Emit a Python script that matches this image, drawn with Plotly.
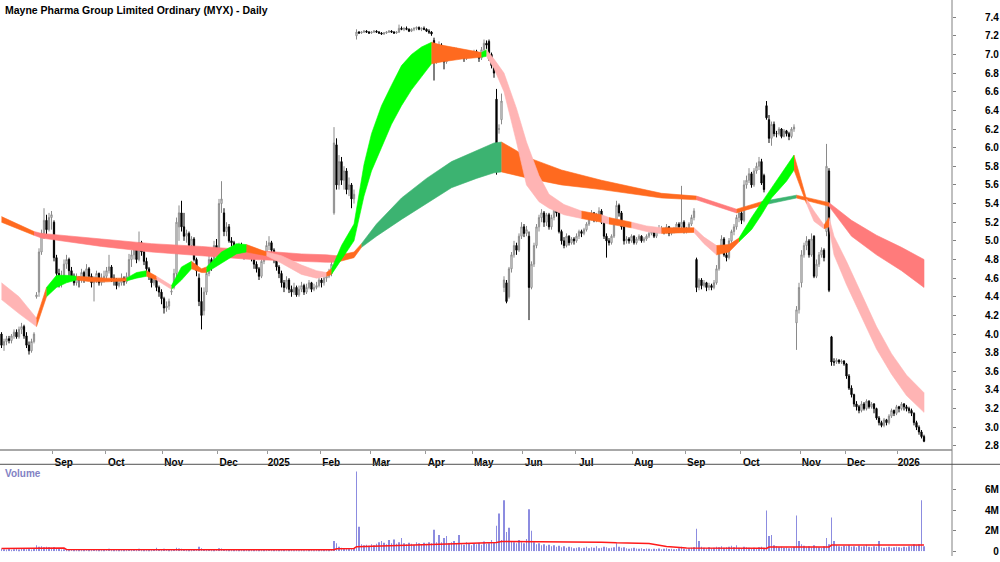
import plotly.graph_objects as go

# ---------------- data ----------------
month_first_bar = [21, 42, 65, 87, 107, 128, 148, 170, 189, 209, 230, 253, 274, 296, 320, 338, 359]
month_labels = ["Sep", "Oct", "Nov", "Dec", "2025", "Feb", "Mar", "Apr", "May", "Jun",
                "Jul", "Aug", "Sep", "Oct", "Nov", "Dec", "2026"]

opens = [
    4.00,3.88,3.92,3.95,3.93,3.98,4.02,3.97,4.05,4.08,
    3.98,3.88,3.82,3.92,4.40,4.45,4.88,5.08,5.22,5.12,
    5.25,5.20,4.82,4.65,4.55,4.62,4.75,4.80,4.68,4.62,
    4.55,4.60,4.58,4.66,4.60,4.70,4.62,4.55,4.58,4.65,
    4.55,4.60,4.62,4.68,4.72,4.60,4.58,4.52,4.55,4.60,
    4.56,4.62,4.80,4.85,4.92,4.80,4.98,4.88,4.78,4.70,
    4.62,4.55,4.58,4.50,4.45,4.38,4.28,4.30,4.45,4.50,
    4.65,5.15,5.30,5.15,5.05,5.08,4.95,5.02,4.80,4.60,
    4.35,4.25,4.45,4.65,4.80,4.75,4.95,4.90,5.40,5.30,
    5.10,5.15,5.00,4.98,4.92,4.88,4.95,4.90,4.85,4.92,
    4.88,4.82,4.75,4.70,4.62,4.78,4.85,4.95,4.98,4.90,
    4.80,4.72,4.65,4.55,4.50,4.58,4.48,4.45,4.50,4.42,
    4.48,4.52,4.45,4.50,4.55,4.48,4.50,4.52,4.58,4.55,
    4.60,4.62,4.65,5.30,6.03,5.60,5.85,5.65,5.75,5.55,
    5.60,5.45,7.20,7.24,7.23,7.24,7.25,7.24,7.23,7.24,
    7.25,7.24,7.23,7.22,7.23,7.24,7.25,7.24,7.23,7.24,
    7.28,7.27,7.28,7.27,7.25,7.27,7.28,7.29,7.27,7.28,
    7.27,7.25,7.24,7.15,6.92,7.05,7.10,6.95,6.92,7.00,
    6.98,7.02,7.05,7.00,7.04,6.98,6.96,7.00,7.02,7.00,
    7.03,7.01,6.96,7.05,7.12,7.14,7.00,6.88,6.52,6.20,
    6.30,4.50,4.55,4.40,4.70,4.85,4.95,4.90,5.05,5.15,
    5.08,5.05,4.50,4.75,4.95,5.15,5.25,5.30,5.20,5.28,
    5.15,5.25,5.35,5.30,5.10,5.00,4.95,5.05,4.98,5.02,
    5.00,5.05,5.10,5.08,5.12,5.18,5.25,5.30,5.22,5.28,
    5.32,5.20,5.05,5.00,4.98,5.05,5.20,5.38,5.30,5.15,
    5.00,5.02,5.00,5.05,4.98,5.02,5.05,5.00,5.02,5.05,
    5.08,5.10,5.05,5.10,5.12,5.12,5.10,5.15,5.08,5.10,
    5.12,5.18,5.15,5.20,5.10,5.12,5.18,5.25,4.80,4.50,
    4.58,4.52,4.55,4.50,4.52,4.50,4.55,4.70,4.90,5.02,
    4.85,4.82,5.00,5.10,5.15,5.25,5.30,5.22,5.60,5.65,
    5.72,5.60,5.75,5.80,5.85,5.70,6.45,6.30,6.10,6.25,
    6.15,6.15,6.20,6.12,6.18,6.15,6.12,6.20,4.12,4.26,
    4.55,4.85,4.95,5.00,4.85,5.05,4.62,4.75,4.85,4.90,
    5.10,5.75,3.97,3.70,3.70,3.72,3.70,3.71,3.68,3.55,
    3.42,3.35,3.25,3.22,3.18,3.25,3.20,3.28,3.22,3.25,
    3.20,3.10,3.05,3.02,3.08,3.05,3.12,3.18,3.15,3.22,
    3.20,3.25,3.22,3.20,3.18,3.15,3.05,3.00,2.95,2.90,
]
highs = [
    4.02,3.95,3.98,3.98,4.00,4.05,4.05,4.08,4.12,4.10,
    4.02,3.92,3.95,4.02,4.45,4.92,5.12,5.35,5.28,5.30,
    5.32,5.22,4.85,4.70,4.68,4.80,4.85,4.82,4.72,4.65,
    4.65,4.62,4.70,4.68,4.75,4.72,4.65,4.62,4.68,4.66,
    4.65,4.68,4.72,4.85,4.74,4.64,4.60,4.60,4.65,4.62,
    4.66,4.86,4.90,4.98,4.94,5.10,5.00,4.90,4.82,4.72,
    4.64,4.62,4.60,4.52,4.48,4.40,4.35,4.38,4.50,4.70,
    5.25,5.38,5.43,5.30,5.12,5.10,5.05,5.04,4.82,4.65,
    4.50,4.50,4.70,4.85,4.82,5.00,5.02,5.45,5.64,5.35,
    5.20,5.18,5.04,5.00,4.95,4.98,4.98,4.92,4.95,4.94,
    4.90,4.84,4.78,4.72,4.80,4.88,5.00,5.05,5.00,4.92,
    4.82,4.74,4.68,4.58,4.62,4.60,4.52,4.55,4.52,4.52,
    4.56,4.54,4.54,4.58,4.56,4.54,4.56,4.62,4.60,4.64,
    4.66,4.70,4.78,6.22,6.10,5.92,5.90,5.80,5.78,5.68,
    5.62,5.55,7.27,7.25,7.25,7.26,7.26,7.25,7.25,7.26,
    7.26,7.25,7.24,7.24,7.25,7.26,7.26,7.25,7.25,7.32,
    7.30,7.29,7.30,7.28,7.28,7.29,7.30,7.30,7.29,7.30,
    7.28,7.27,7.25,7.18,7.10,7.14,7.12,6.98,7.04,7.02,
    7.06,7.08,7.07,7.06,7.05,7.00,7.02,7.04,7.03,7.05,
    7.05,7.02,7.08,7.16,7.15,7.16,7.02,6.90,6.63,6.25,
    6.58,4.62,4.58,4.72,4.88,5.00,4.98,5.08,5.20,5.18,
    5.16,5.10,4.78,4.98,5.18,5.28,5.34,5.32,5.30,5.30,
    5.28,5.36,5.36,5.32,5.12,5.04,5.08,5.06,5.04,5.04,
    5.08,5.12,5.12,5.14,5.20,5.27,5.33,5.31,5.30,5.36,
    5.34,5.22,5.08,5.03,5.07,5.22,5.43,5.40,5.32,5.17,
    5.05,5.04,5.07,5.06,5.04,5.07,5.06,5.04,5.07,5.10,
    5.12,5.11,5.12,5.17,5.16,5.14,5.18,5.16,5.13,5.15,
    5.20,5.20,5.59,5.22,5.15,5.20,5.28,5.35,4.82,4.60,
    4.60,4.58,4.56,4.55,4.54,4.58,4.74,4.92,5.06,5.04,
    4.88,5.03,5.12,5.18,5.28,5.33,5.32,5.65,5.70,5.78,
    5.74,5.78,5.84,5.90,5.88,5.72,6.50,6.35,6.28,6.28,
    6.18,6.22,6.21,6.20,6.19,6.17,6.22,6.25,4.30,4.55,
    4.90,4.98,5.05,5.02,5.08,5.06,4.80,4.88,4.93,4.92,
    6.04,5.78,3.98,3.74,3.74,3.73,3.73,3.72,3.69,3.57,
    3.45,3.36,3.28,3.24,3.28,3.27,3.30,3.29,3.27,3.26,
    3.21,3.12,3.07,3.10,3.09,3.14,3.20,3.19,3.24,3.23,
    3.27,3.26,3.24,3.22,3.20,3.16,3.07,3.02,2.97,2.92,
]
lows = [
    3.85,3.82,3.88,3.90,3.90,3.95,3.95,3.95,4.00,3.95,
    3.85,3.78,3.80,3.90,4.38,4.40,4.85,5.02,5.05,5.10,
    5.12,4.78,4.60,4.50,4.50,4.60,4.70,4.62,4.58,4.52,
    4.52,4.50,4.55,4.55,4.58,4.58,4.50,4.35,4.55,4.52,
    4.52,4.55,4.58,4.65,4.56,4.52,4.48,4.50,4.52,4.52,
    4.54,4.60,4.72,4.80,4.76,4.78,4.84,4.74,4.66,4.58,
    4.50,4.52,4.46,4.40,4.32,4.22,4.24,4.26,4.42,4.48,
    4.60,5.00,5.10,5.00,4.98,4.90,4.92,4.78,4.62,4.30,
    4.05,4.20,4.42,4.62,4.68,4.72,4.85,4.85,5.30,5.05,
    5.05,4.98,4.94,4.88,4.84,4.86,4.86,4.80,4.82,4.84,
    4.78,4.70,4.66,4.58,4.60,4.75,4.82,4.90,4.86,4.76,
    4.68,4.60,4.50,4.45,4.48,4.44,4.40,4.42,4.40,4.40,
    4.45,4.42,4.43,4.48,4.45,4.46,4.48,4.50,4.50,4.52,
    4.56,4.60,4.62,5.28,5.55,5.55,5.60,5.55,5.50,5.48,
    5.35,5.40,7.16,7.22,7.22,7.23,7.23,7.22,7.22,7.23,
    7.23,7.22,7.21,7.21,7.22,7.23,7.23,7.22,7.22,7.23,
    7.26,7.25,7.26,7.24,7.24,7.25,7.26,7.26,7.25,7.26,
    7.24,7.22,7.20,6.72,6.90,7.00,6.92,6.84,6.90,6.94,
    6.96,7.00,6.98,6.98,6.96,6.92,6.94,6.98,6.97,6.98,
    6.99,6.92,6.94,7.02,7.06,6.93,6.85,6.75,5.71,6.15,
    6.25,4.45,4.33,4.38,4.66,4.82,4.85,4.88,5.02,5.04,
    5.05,4.15,4.48,4.72,4.92,5.10,5.20,5.15,5.16,5.12,
    5.12,5.22,5.26,5.08,4.96,4.92,4.93,4.95,4.96,4.96,
    4.98,5.02,5.04,5.06,5.10,5.16,5.22,5.20,5.20,5.26,
    5.18,5.02,4.82,4.95,4.96,5.03,5.18,5.26,5.12,4.96,
    4.97,4.97,4.98,4.96,4.96,5.00,4.98,4.98,5.00,5.03,
    5.06,5.03,5.03,5.08,5.09,5.07,5.08,5.05,5.06,5.08,
    5.10,5.12,5.13,5.08,5.08,5.10,5.16,5.22,4.45,4.47,
    4.48,4.50,4.46,4.47,4.47,4.48,4.53,4.68,4.88,4.83,
    4.78,4.80,4.98,5.06,5.12,5.20,5.18,5.20,5.56,5.62,
    5.57,5.58,5.72,5.76,5.60,5.52,6.30,6.05,6.02,6.12,
    6.11,6.13,6.10,6.11,6.12,6.08,6.10,6.17,3.83,4.22,
    4.50,4.82,4.90,4.82,4.83,4.60,4.60,4.72,4.82,4.78,
    5.05,4.45,3.66,3.66,3.68,3.68,3.68,3.66,3.52,3.40,
    3.32,3.22,3.18,3.15,3.16,3.18,3.18,3.20,3.20,3.15,
    3.08,3.02,3.00,3.00,3.02,3.03,3.10,3.12,3.13,3.16,
    3.18,3.18,3.17,3.15,3.12,3.02,2.97,2.92,2.88,2.84,
]
closes = [
    3.88,3.92,3.95,3.93,3.98,4.02,3.97,4.05,4.08,3.98,
    3.88,3.82,3.92,4.00,4.42,4.88,5.08,5.22,5.12,5.25,
    5.28,4.82,4.65,4.55,4.62,4.75,4.80,4.68,4.62,4.55,
    4.60,4.58,4.66,4.60,4.70,4.62,4.55,4.58,4.65,4.55,
    4.60,4.62,4.68,4.72,4.60,4.58,4.52,4.55,4.60,4.56,
    4.62,4.80,4.85,4.92,4.80,4.98,4.88,4.78,4.70,4.62,
    4.55,4.58,4.50,4.45,4.38,4.28,4.30,4.35,4.46,4.65,
    5.20,5.30,5.15,5.05,5.08,4.95,5.02,4.80,4.68,4.35,
    4.20,4.45,4.65,4.80,4.75,4.95,4.90,5.40,5.45,5.10,
    5.15,5.00,4.98,4.92,4.88,4.95,4.90,4.85,4.92,4.88,
    4.82,4.75,4.70,4.62,4.78,4.85,4.95,4.98,4.90,4.80,
    4.72,4.65,4.55,4.50,4.58,4.48,4.45,4.50,4.42,4.48,
    4.52,4.45,4.50,4.55,4.48,4.50,4.52,4.58,4.55,4.60,
    4.62,4.65,4.75,6.05,5.60,5.85,5.65,5.75,5.55,5.60,
    5.45,5.50,7.24,7.23,7.24,7.25,7.24,7.23,7.24,7.25,
    7.24,7.23,7.22,7.23,7.24,7.25,7.24,7.23,7.24,7.28,
    7.27,7.28,7.27,7.25,7.27,7.28,7.29,7.27,7.28,7.27,
    7.25,7.24,7.22,6.92,7.05,7.10,6.95,6.92,7.00,6.98,
    7.02,7.05,7.00,7.04,6.98,6.96,7.00,7.02,7.00,7.03,
    7.01,6.96,7.05,7.12,7.10,6.95,6.88,6.80,5.75,6.20,
    6.50,4.58,4.35,4.70,4.85,4.95,4.90,5.05,5.15,5.08,
    5.12,4.50,4.75,4.95,5.15,5.25,5.30,5.20,5.28,5.15,
    5.25,5.35,5.30,5.10,5.00,4.95,5.05,4.98,5.02,5.00,
    5.05,5.10,5.08,5.12,5.18,5.25,5.30,5.22,5.28,5.32,
    5.20,5.05,5.00,4.98,5.05,5.20,5.38,5.30,5.15,5.00,
    5.02,5.00,5.05,4.98,5.02,5.05,5.00,5.02,5.05,5.08,
    5.10,5.05,5.10,5.12,5.12,5.10,5.15,5.08,5.10,5.12,
    5.18,5.15,5.20,5.10,5.12,5.18,5.25,5.32,4.50,4.58,
    4.52,4.55,4.50,4.52,4.50,4.55,4.70,4.90,5.02,4.85,
    4.82,5.00,5.10,5.15,5.25,5.30,5.22,5.60,5.65,5.72,
    5.60,5.75,5.80,5.85,5.62,5.55,6.32,6.10,6.25,6.15,
    6.15,6.20,6.12,6.18,6.15,6.12,6.20,6.22,4.26,4.50,
    4.85,4.95,5.00,4.85,5.02,4.62,4.75,4.85,4.90,4.82,
    5.80,4.47,3.70,3.70,3.72,3.70,3.71,3.68,3.55,3.42,
    3.35,3.25,3.22,3.18,3.25,3.20,3.28,3.22,3.25,3.20,
    3.10,3.05,3.02,3.08,3.05,3.12,3.18,3.15,3.22,3.20,
    3.25,3.22,3.20,3.18,3.15,3.05,3.00,2.95,2.90,2.85,
]
volumes_m = [
    0.25,0.20,0.18,0.22,0.15,0.20,0.28,0.18,0.22,0.25,
    0.20,0.30,0.18,0.22,0.60,0.45,0.50,0.40,0.45,0.40,
    0.35,0.40,0.30,0.22,0.18,0.20,0.15,0.18,0.22,0.15,
    0.12,0.15,0.18,0.14,0.20,0.16,0.12,0.22,0.15,0.14,
    0.15,0.18,0.20,0.25,0.15,0.12,0.14,0.16,0.13,0.12,
    0.15,0.22,0.18,0.20,0.16,0.25,0.18,0.15,0.14,0.16,
    0.18,0.20,0.35,0.22,0.18,0.25,0.20,0.16,0.15,0.22,
    0.35,0.28,0.25,0.20,0.18,0.15,0.16,0.20,0.22,0.45,
    0.30,0.22,0.18,0.20,0.16,0.18,0.22,0.30,0.28,0.20,
    0.18,0.15,0.14,0.16,0.12,0.13,0.15,0.12,0.14,0.12,
    0.13,0.15,0.18,0.14,0.16,0.15,0.18,0.20,0.14,0.12,
    0.15,0.14,0.16,0.12,0.10,0.12,0.13,0.11,0.12,0.10,
    0.12,0.11,0.10,0.13,0.12,0.11,0.14,0.12,0.15,0.13,
    0.14,0.16,0.20,1.00,0.80,0.45,0.35,0.30,0.28,0.25,
    0.30,0.28,7.80,2.40,0.70,0.60,0.65,0.55,0.70,0.60,
    0.75,0.90,1.00,0.85,0.70,1.10,0.80,1.15,0.75,0.90,
    1.30,0.80,0.70,0.85,0.75,0.65,0.90,0.80,0.70,0.85,
    0.75,0.90,0.80,2.10,0.90,1.60,0.90,1.30,1.50,0.80,
    0.90,1.00,0.75,1.60,0.70,0.65,0.90,0.75,0.60,0.80,
    0.70,0.85,0.65,0.95,0.75,0.80,1.10,0.90,2.50,3.70,
    1.10,5.00,1.90,2.30,1.00,0.90,0.80,1.10,0.90,0.80,
    1.20,4.10,2.00,0.90,0.70,0.80,0.60,0.70,0.55,0.65,
    0.50,0.60,0.45,0.55,0.40,0.50,0.35,0.45,0.40,0.30,
    0.35,0.40,0.30,0.35,0.45,0.30,0.40,0.35,0.50,0.30,
    0.35,0.45,0.40,0.30,0.35,0.40,0.80,0.45,0.35,0.40,
    0.30,0.25,0.30,0.35,0.28,0.25,0.30,0.22,0.28,0.25,
    0.20,0.25,0.22,0.28,0.20,0.25,0.30,0.22,0.25,0.20,
    0.22,0.30,0.45,0.25,0.20,0.30,0.35,0.40,2.20,1.00,
    0.45,0.35,0.30,0.40,0.30,0.35,0.45,0.40,0.50,0.35,
    0.40,0.45,0.55,0.40,0.60,0.35,0.30,0.45,0.40,0.35,
    0.30,0.35,0.30,0.40,0.45,0.35,4.00,1.50,1.60,0.60,
    0.50,0.40,0.45,0.35,0.40,0.30,0.35,0.45,3.50,1.00,
    0.70,0.55,0.45,0.50,0.40,0.60,0.45,0.40,0.35,0.50,
    1.30,0.70,3.30,1.00,0.60,0.50,0.45,0.55,0.50,0.60,
    0.45,0.50,0.40,0.55,0.45,0.50,0.65,0.45,0.40,0.50,
    0.45,1.00,0.40,0.35,0.40,0.45,0.35,0.40,0.45,0.40,
    0.35,0.45,0.40,0.50,0.55,0.70,0.60,0.70,5.00,0.50,
]

# volume moving-average line (millions), read at bar positions
vol_ma_idx = [0, 4, 5, 25, 26, 120, 121, 133, 134, 141, 142, 168, 184, 198, 200, 212,
              240, 246, 259, 266, 274, 306, 307, 331, 332, 369]
vol_ma_val = [0.29, 0.29, 0.32, 0.32, 0.19, 0.19, 0.14, 0.15, 0.25, 0.28, 0.45, 0.64, 0.77,
              0.87, 0.96, 0.96, 0.90, 0.83, 0.77, 0.48, 0.32, 0.29, 0.42, 0.42, 0.61, 0.63]

# short-term ribbon (upper / lower edge) read at bar positions
fast_idx = [0, 7, 14, 18, 22, 26, 30, 36, 42, 50, 54, 58, 62, 68, 72, 76, 80, 82, 88, 94,
            98, 102, 106, 112, 120, 126, 130, 132, 136, 141, 143, 145, 148, 152, 156, 160, 164, 168, 172, 176,
            184, 192, 194, 197, 201, 206, 210, 215, 219, 225, 232, 240, 243, 252, 258, 264, 277, 281, 286, 291,
            295, 300, 304, 308, 314, 317, 320, 322, 325, 329, 331, 333, 338, 344, 350, 356, 362, 369]
fast_top = [4.55, 4.40, 4.17, 4.50, 4.63, 4.63, 4.62, 4.61, 4.60, 4.60, 4.66, 4.68, 4.62, 4.52, 4.72, 4.78, 4.70, 4.72, 4.88, 4.97,
            4.96, 4.92, 4.88, 4.84, 4.74, 4.68, 4.66, 4.70, 4.95, 5.18, 5.50, 5.82, 6.15, 6.45, 6.67, 6.88, 7.00, 7.08, 7.13, 7.10,
            7.06, 7.02, 7.05, 6.95, 6.80, 6.42, 6.06, 5.70, 5.50, 5.39, 5.32, 5.28, 5.25, 5.20, 5.16, 5.14, 5.14, 5.04, 4.95, 4.96,
            5.03, 5.25, 5.41, 5.57, 5.81, 5.92, 5.62, 5.45, 5.32, 5.17, 5.25, 5.05, 4.78, 4.43, 4.08, 3.79, 3.56, 3.37]
fast_bot = [4.37, 4.22, 4.08, 4.40, 4.50, 4.55, 4.58, 4.56, 4.56, 4.57, 4.60, 4.62, 4.58, 4.48, 4.58, 4.70, 4.66, 4.66, 4.76, 4.86,
            4.88, 4.86, 4.84, 4.76, 4.64, 4.60, 4.62, 4.64, 4.80, 5.00, 5.25, 5.48, 5.75, 6.00, 6.25, 6.45, 6.62, 6.76, 6.90, 6.92,
            6.95, 6.97, 6.98, 6.85, 6.60, 6.06, 5.60, 5.42, 5.35, 5.28, 5.24, 5.20, 5.18, 5.14, 5.10, 5.08, 5.09, 4.97, 4.85, 4.88,
            4.99, 5.12, 5.28, 5.46, 5.64, 5.76, 5.55, 5.40, 5.21, 5.13, 5.15, 4.85, 4.53, 4.18, 3.84, 3.57, 3.34, 3.16]
# colour of each stretch between two consecutive samples (P pink, O orange, G green)
fast_state = "PPOGGGOOOG" "GOPGGOOGGG" "OOPPPPOGGG" "GGGGGGGGOO" "OGPPPPPPPP" "OPOPPOPPOO" "GGGGGOOPPO" "PPPPPPP"

# long-term ribbon
slow_idx = [0, 13, 16, 40, 60, 80, 100, 120, 130, 134, 141, 144, 150, 160, 170, 180, 190, 197, 200, 211,
            224, 240, 264, 278, 294, 304, 318, 331, 340, 350, 360, 369]
slow_top = [5.26, 5.10, 5.08, 5.02, 4.97, 4.94, 4.90, 4.86, 4.85, 4.84, 4.88, 4.97, 5.18, 5.46, 5.67, 5.85, 5.97, 6.05, 6.06, 5.89,
            5.76, 5.65, 5.51, 5.48, 5.34, 5.42, 5.49, 5.41, 5.22, 5.06, 4.93, 4.80]
slow_bot = [5.20, 5.06, 5.03, 4.94, 4.88, 4.84, 4.80, 4.78, 4.77, 4.77, 4.82, 4.93, 5.05, 5.23, 5.40, 5.57, 5.67, 5.73, 5.74, 5.67,
            5.60, 5.55, 5.46, 5.44, 5.30, 5.38, 5.46, 5.37, 5.05, 4.85, 4.68, 4.50]
# (O orange, R red, S sea green)
slow_state = "ORRRRRRRRO" "OSSSSSSSOO" "OOOROSORRRR"

price_ticks = [2.8, 3.0, 3.2, 3.4, 3.6, 3.8, 4.0, 4.2, 4.4, 4.6, 4.8, 5.0, 5.2, 5.4, 5.6, 5.8,
               6.0, 6.2, 6.4, 6.6, 6.8, 7.0, 7.2, 7.4]
volume_ticks_m = [0, 2, 4, 6]
volume_tick_text = ["\u00a0\u00a0\u00a00", "2M", "4M", "6M"]

# ---------------- styling ----------------
STATE_COLORS = {"P": "#ffb4b4", "O": "#ff6a1f", "G": "#00ff00", "R": "#ff7b7b", "S": "#3cb371"}
FONT = "Liberation Sans, Arial, sans-serif"
W, H = 1000, 562
PLOT_RIGHT = 952
PRICE_BOTTOM = 454.3
VOL_TOP, VOL_ZERO = 469.3, 557.3

bars = list(range(len(closes)))
fig = go.Figure()


def add_ribbon(idx, top, bot, states):
    k = 0
    n = len(states)
    while k < n:
        j = k
        while j + 1 < n and states[j + 1] == states[k]:
            j += 1
        a, b = k, j + 1
        xs = idx[a:b + 1] + idx[a:b + 1][::-1]
        ys = top[a:b + 1] + bot[a:b + 1][::-1]
        fig.add_trace(go.Scatter(x=xs, y=ys, mode="lines", fill="toself",
                                 fillcolor=STATE_COLORS[states[k]],
                                 line=dict(width=0.6, color=STATE_COLORS[states[k]]),
                                 hoverinfo="skip", xaxis="x", yaxis="y"))
        k = j + 1


add_ribbon(slow_idx, slow_top, slow_bot, slow_state)
add_ribbon(fast_idx, fast_top, fast_bot, fast_state)

fig.add_trace(go.Candlestick(
    x=bars, open=opens, high=highs, low=lows, close=closes,
    increasing=dict(line=dict(color="#8a8a8a", width=1), fillcolor="#ffffff"),
    decreasing=dict(line=dict(color="#000000", width=1), fillcolor="#000000"),
    whiskerwidth=0, xaxis="x", yaxis="y"))

fig.add_trace(go.Bar(x=bars, y=[v * 1e6 for v in volumes_m], width=0.4,
                     marker=dict(color="#8c8ce0", line=dict(width=0)),
                     xaxis="x2", yaxis="y2"))
fig.add_trace(go.Scatter(x=vol_ma_idx, y=[v * 1e6 for v in vol_ma_val], mode="lines",
                         line=dict(color="#ff1a1a", width=1.5), xaxis="x2", yaxis="y2"))

xr = [-0.6, -0.6 + PLOT_RIGHT / 2.5]
tickfont = dict(family=FONT, size=10, color="#000000", weight="bold")

fig.update_layout(
    width=W, height=H, margin=dict(l=0, r=0, t=0, b=0),
    paper_bgcolor="white", plot_bgcolor="white", showlegend=False,
    xaxis=dict(domain=[0, PLOT_RIGHT / W], range=xr, anchor="y",
               tickvals=[m - 0.5 for m in month_first_bar], ticktext=month_labels,
               ticks="outside", ticklen=3, tickcolor="#9a9a9a", tickwidth=1,
               showline=True, linecolor="#a8a8a8", linewidth=2,
               showgrid=False, zeroline=False, rangeslider=dict(visible=False),
               tickfont=tickfont, ticklabelshift=11),
    xaxis2=dict(domain=[0, PLOT_RIGHT / W], matches="x", anchor="y2",
                showticklabels=False, showgrid=False, zeroline=False, showline=False, ticks=""),
    yaxis=dict(domain=[(H - PRICE_BOTTOM) / H, 1], range=[2.762, 7.584], side="right", anchor="x",
               tickvals=price_ticks, ticktext=["%.1f" % t for t in price_ticks],
               ticks="outside", ticklen=3, tickcolor="#808080",
               showgrid=False, zeroline=False, showline=False,
               tickfont=tickfont, ticklabelstandoff=27),
    yaxis2=dict(domain=[(H - VOL_ZERO) / H, (H - VOL_TOP) / H], range=[0, 8.5e6], side="right",
                anchor="x2", tickvals=[v * 1e6 for v in volume_ticks_m], ticktext=volume_tick_text,
                ticks="outside", ticklen=3, tickcolor="#808080",
                showgrid=False, zeroline=False, showline=False,
                tickfont=tickfont, ticklabelstandoff=27),
    shapes=[
        dict(type="line", xref="paper", yref="paper", x0=PLOT_RIGHT / W, x1=PLOT_RIGHT / W,
             y0=0, y1=1, line=dict(color="#808080", width=1)),
        dict(type="line", xref="paper", yref="paper", x0=0, x1=1,
             y0=(H - VOL_TOP) / H, y1=(H - VOL_TOP) / H, line=dict(color="#505050", width=1)),
    ],
    annotations=[
        dict(text="Mayne Pharma Group Limited Ordinary (MYX) - Daily", xref="paper", yref="paper",
             x=2.5 / W, y=1 - 2 / H, xanchor="left", yanchor="top", showarrow=False,
             font=dict(family=FONT, size=10.5, color="#000000", weight="bold")),
        dict(text="Volume", xref="paper", yref="paper", x=2.5 / W, y=(H - 478.3) / H,
             xanchor="left", yanchor="middle", showarrow=False,
             font=dict(family=FONT, size=10, color="#8282c4", weight="bold")),
    ],
)

fig.write_html("out.html")
